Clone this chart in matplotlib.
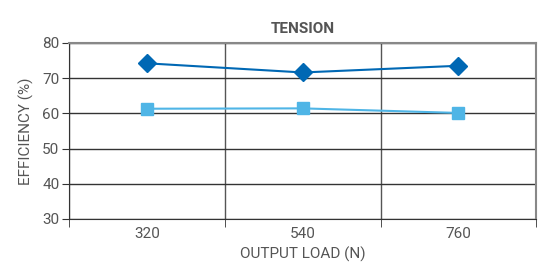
import matplotlib.pyplot as plt

loads = ['320', '540', '760']
eff_diamond = [74.2, 71.6, 73.5]
eff_square = [61.3, 61.4, 60.1]

plt.rcParams['font.family'] = ['Roboto', 'DejaVu Sans']
txt = '#555555'

fig = plt.figure(figsize=(5.4, 2.75), dpi=100)
ax = fig.add_axes([0.128, 0.204, 0.865, 0.640])

x = list(range(len(loads)))
ax.plot(x, eff_diamond, color='#0068b4', lw=1.5, marker='D', ms=9, zorder=3)
ax.plot(x, eff_square, color='#4fb5e6', lw=1.5, marker='s', ms=9, zorder=3)

ax.set_xlim(-0.5, len(loads) - 0.5)
ax.set_ylim(30, 80)
ax.set_yticks(range(30, 81, 10))
ax.set_xticks(x)
ax.set_xticklabels(loads)
ax.set_xticks([i - 0.5 for i in range(len(loads) + 1)], minor=True)

ax.grid(axis='y', color='#333333', lw=1)
ax.grid(axis='x', which='minor', color='#555555', lw=1)
ax.tick_params(axis='x', which='major', length=0, labelsize=11, labelcolor=txt, pad=6)
ax.tick_params(axis='x', which='minor', length=6, color='#333333')
ax.tick_params(axis='y', length=5, color='#333333', labelsize=11, labelcolor=txt, pad=2)

for s in ['left', 'bottom']:
    ax.spines[s].set_color('#333333')
for s in ['top', 'right']:
    ax.spines[s].set_color('#888888')
    ax.spines[s].set_linewidth(1.5)

ax.set_title('TENSION', fontsize=11, fontweight='bold', color=txt, pad=7)
ax.set_xlabel('OUTPUT LOAD (N)', fontsize=11, color=txt, labelpad=4)
ax.set_ylabel('EFFICIENCY (%)', fontsize=11, color=txt, labelpad=6)

fig.savefig('out.png', dpi=100)
